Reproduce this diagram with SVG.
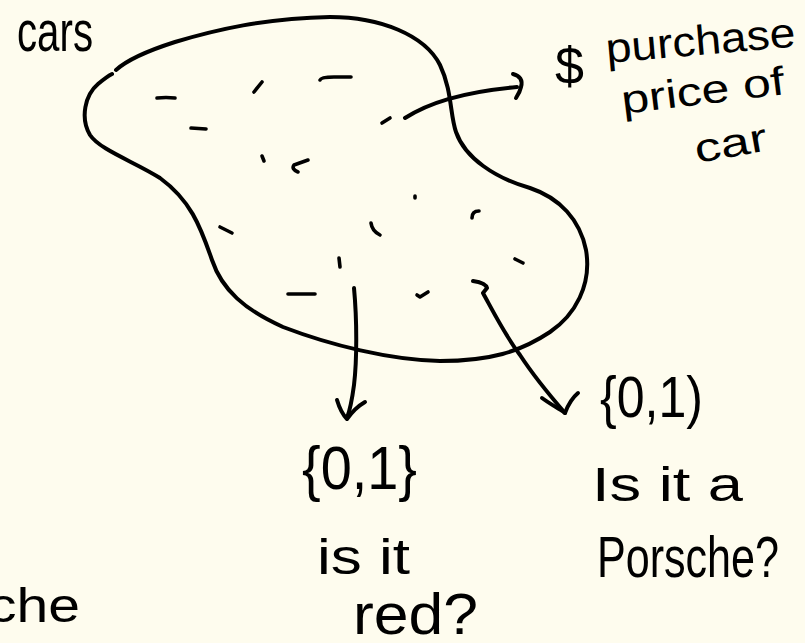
<svg xmlns="http://www.w3.org/2000/svg" width="805" height="643" viewBox="0 0 805 643">
  <style>
    .ink { fill: none; stroke: #000; stroke-width: 4; stroke-linecap: round; stroke-linejoin: round; }
    .dot { fill: none; stroke: #000; stroke-width: 3.6; stroke-linecap: round; stroke-linejoin: round; }
    .hand { font-family: "Liberation Sans", "DejaVu Sans", sans-serif; fill: #000; }
  </style>
  <rect width="805" height="643" fill="#fefcee"/>

  <!-- the set of cars: a freehand blob with sample points inside -->
  <g id="cars-set">
    <path class="ink" d="M116,70 C128,59 150,50 175,42 C215,30 265,18 330,17 C380,17 425,35 440,65 C452,90 450,115 456,132 C465,158 495,178 530,188 C560,198 580,220 586,250 C592,285 575,315 550,332 C520,352 490,361 440,361 C390,360 330,345 283,327 C245,310 222,290 212,260 C200,225 190,200 160,178 C135,162 100,150 90,135 C80,118 85,95 98,84 C104,79 108,76 112,74"/>
    <g id="samples">
      <path class="dot" d="M157,98 Q166,97 175,98"/>
      <path class="dot" d="M254,92 L262,82"/>
      <path class="dot" d="M320,80 Q321,77 334,77 L351,77"/>
      <path class="dot" d="M191,128 L206,129"/>
      <path class="dot" d="M262,156 L264,161"/>
      <path class="dot" d="M308,160 L294,165 Q291,169 298,172"/>
      <path class="dot" d="M220,227 L232,233"/>
      <path class="dot" d="M339,258 L340,267"/>
      <path class="dot" d="M288,294 L315,294"/>
      <path class="dot" d="M417,295 L420,297 L428,292"/>
      <path class="dot" d="M371,223 Q372,231 380,235"/>
      <path class="dot" d="M472,218 Q472,211 479,211"/>
      <path class="dot" d="M515,259 L523,263"/>
      <path class="dot" d="M415,196 L415,198"/>
      <path class="dot" d="M382,123 L390,118"/>
    </g>
  </g>

  <!-- labels -->
  <g id="label-cars">
    <text class="hand" x="17" y="51" font-size="58" textLength="76" lengthAdjust="spacingAndGlyphs">cars</text>
  </g>

  <g id="label-price">
    <text class="hand" x="555" y="84" font-size="52">$</text>
    <text class="hand" x="607" y="63" font-size="42" textLength="190" lengthAdjust="spacingAndGlyphs" transform="rotate(-5 607 63)">purchase</text>
    <text class="hand" x="623" y="114" font-size="40" textLength="164" lengthAdjust="spacingAndGlyphs" transform="rotate(-7 623 114)">price of</text>
    <text class="hand" x="697" y="163" font-size="40" textLength="73" lengthAdjust="spacingAndGlyphs" transform="rotate(-10 697 163)">car</text>
  </g>

  <g id="label-red">
    <text class="hand" x="302" y="489" font-size="62" textLength="115" lengthAdjust="spacingAndGlyphs">{0,1}</text>
    <text class="hand" x="317" y="574" font-size="50" textLength="93" lengthAdjust="spacingAndGlyphs">is it</text>
    <text class="hand" x="353" y="634" font-size="58" textLength="125" lengthAdjust="spacingAndGlyphs">red?</text>
  </g>

  <g id="label-porsche">
    <text class="hand" x="600" y="417" font-size="58" textLength="103" lengthAdjust="spacingAndGlyphs">{0,1)</text>
    <text class="hand" x="592" y="501" font-size="48" textLength="151" lengthAdjust="spacingAndGlyphs">Is it a</text>
    <text class="hand" x="597" y="577" font-size="58" textLength="182" lengthAdjust="spacingAndGlyphs">Porsche?</text>
  </g>

  <g id="label-edge">
    <text class="hand" x="-12" y="622" font-size="48" textLength="92" lengthAdjust="spacingAndGlyphs">che</text>
  </g>

  <!-- feature maps from a car to a value -->
  <g id="connectors">
    <g id="to-price">
      <path class="ink" d="M405,118 C425,105 460,92 517,87"/>
      <path class="ink" d="M513,74 C520,76 523,80 521,87 C520,92 518,95 516,98"/>
    </g>
    <g id="to-red">
      <path class="ink" d="M354,288 C357,320 357,360 354,385 C352,400 350,410 347,418"/>
      <path class="ink" d="M337,400 C340,410 344,416 347,419 C352,412 358,406 365,402"/>
    </g>
    <g id="to-porsche">
      <path class="ink" d="M473,281 Q486,283 487,288 L483,293 C495,315 505,335 520,355 C535,378 552,398 565,413"/>
      <path class="ink" d="M542,398 C550,404 558,408 565,413 C568,405 572,398 578,393"/>
    </g>
  </g>
</svg>
